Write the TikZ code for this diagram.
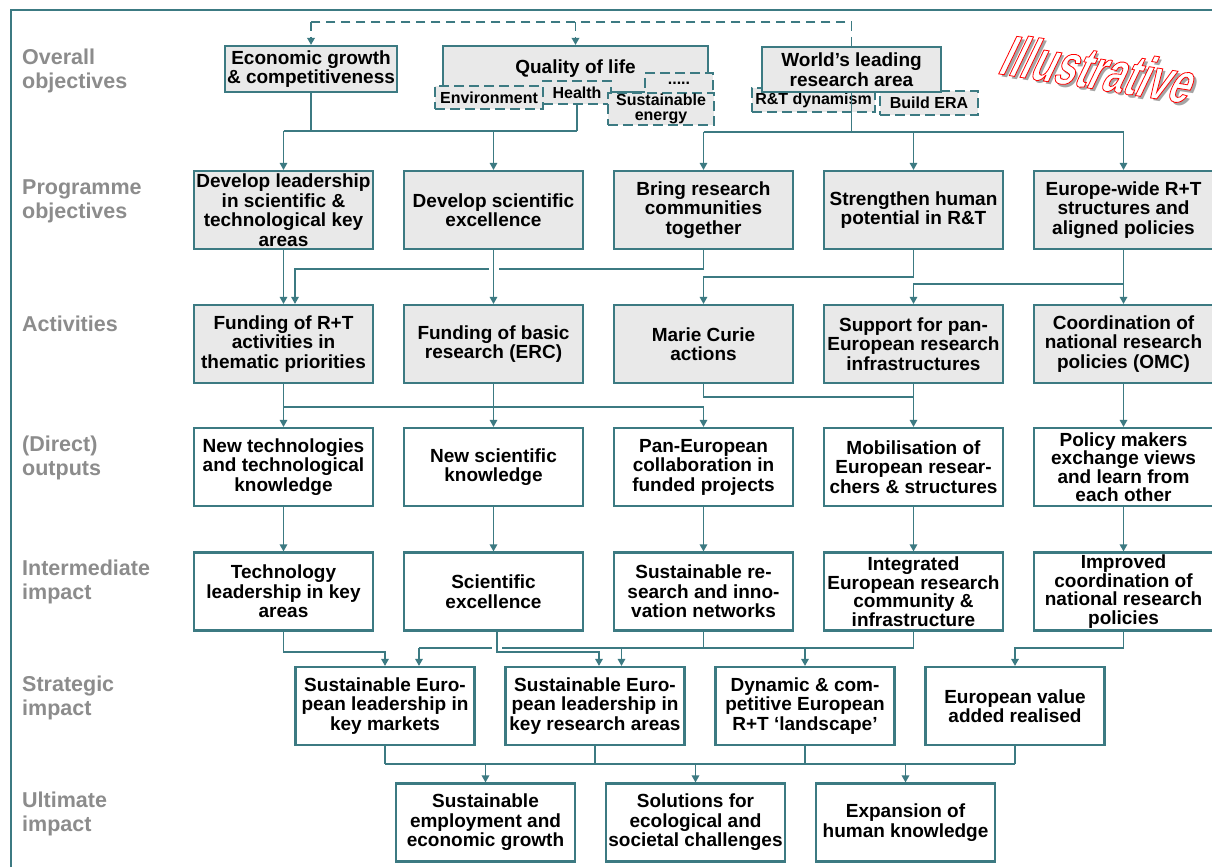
\documentclass[tikz,border=0pt]{standalone}
\usepackage{fontspec}
\setmainfont{Liberation Sans}
\newfontfamily\illfont{Liberation Sans}[FakeStretch=0.66,FakeSlant=0.3]
\usetikzlibrary{arrows.meta,calc}
\definecolor{tealc}{RGB}{60,122,130}
\definecolor{boxgray}{RGB}{233,233,233}
\definecolor{lblgray}{RGB}{140,140,140}
\definecolor{shadowgray}{RGB}{165,165,165}
\newcommand{\outlinedtext}[1]{\special{pdf:literal direct 1 0 0 RG 2 Tr 0.8 w}#1\special{pdf:literal direct 0 Tr}}
\begin{document}
\begin{tikzpicture}[x=1pt,y=-1pt,
  box/.style={draw=tealc, line width=2.2pt, minimum width=179pt, minimum height=78pt, inner sep=0pt, align=center, font=\fontsize{19}{19.5}\selectfont\bfseries},
  gbox/.style={box, fill=boxgray},
  wbox/.style={box, fill=white},
  tight/.style={font=\fontsize{19}{18.5}\selectfont\bfseries},
  subbox/.style={draw=tealc, line width=1.8pt, dash pattern=on 10pt off 5pt, fill=boxgray, inner sep=0pt, align=center, font=\fontsize{16}{15}\selectfont\bfseries},
  lbl/.style={anchor=west, align=left, text=lblgray, font=\fontsize{21.5}{24}\selectfont\bfseries, inner sep=0pt},
  conn/.style={draw=tealc, line width=1.5pt},
  arr/.style={conn, -{Triangle[width=7.5pt,length=7pt]}},
  dconn/.style={draw=tealc, line width=1.8pt, dash pattern=on 9pt off 6pt},
  gap/.style={draw=white, line width=4pt},
  stamp/.style={rotate=-9, inner sep=0pt, font=\illfont\fontsize{58}{58}\selectfont\bfseries},
]
\useasboundingbox (0,0) rectangle (1212,867);
\fill[white] (0,0) rectangle (1212,867);

% frame
\draw[tealc, line width=2.4pt] (11,867) -- (11,10) -- (1212,10);

% left labels
\node[lbl] (l1) at (22,71) {Overall\\objectives};
\node[lbl] (l2) at (22,201) {Programme\\objectives};
\node[lbl] (l3) at (22,324) {Activities};
\node[lbl] (l4) at (22,458) {(Direct)\\outputs};
\node[lbl] (l5) at (22,582) {Intermediate\\impact};
\node[lbl] (l6) at (22,698) {Strategic\\impact};
\node[lbl] (l7) at (22,814) {Ultimate\\impact};

% Illustrative stamp
\node[stamp, text=shadowgray] (illusshadow) at (1097,71) {Illustrative};
\node[stamp, text=white] (illus) at (1094,68) {\outlinedtext{Illustrative}};

% row 1: overall objectives
\node[gbox, minimum width=172pt, minimum height=46pt] (econ) at (311,69) {Economic growth\\\& competitiveness};
\node[gbox, minimum width=265pt, minimum height=46pt] (qol) at (575.5,69) {Quality of life};
\node[subbox, minimum width=108pt, minimum height=23pt] (env) at (489,97.5) {Environment};
\node[subbox, minimum width=68pt, minimum height=23pt] (health) at (577,92.5) {Health};
\node[subbox, minimum width=68pt, minimum height=24pt] (dots) at (679,85) {\raisebox{4pt}{.....}};
\node[subbox, minimum width=106pt, minimum height=32pt] (sust) at (661,109) {Sustainable\\energy};
\node[subbox, minimum width=123pt, minimum height=24pt] (rtd) at (813.5,100) {R\&T dynamism};
\node[subbox, minimum width=98pt, minimum height=24pt] (era) at (929,103) {Build ERA};
\node[gbox, minimum width=179pt, minimum height=45pt] (world) at (851.5,69.5) {World’s leading\\research area};

% row 2: programme objectives
\node[gbox] (p1) at (283.5,210) {Develop leadership\\in scientific \&\\technological key\\areas};
\node[gbox] (p2) at (493.5,210) {Develop scientific\\excellence};
\node[gbox] (p3) at (703.5,210) {Bring research\\communities\\together};
\node[gbox] (p4) at (913.5,210) {Strengthen human\\potential in R\&T};
\node[gbox] (p5) at (1123.5,210) {Europe-wide R+T\\structures and\\aligned policies};

% row 3: activities
\node[gbox] (a1) at (283.5,344) {Funding of R+T\\activities in\\thematic priorities};
\node[gbox] (a2) at (493.5,344) {Funding of basic\\research (ERC)};
\node[gbox] (a3) at (703.5,344) {Marie Curie\\actions};
\node[gbox] (a4) at (913.5,344) {Support for pan-\\European research\\infrastructures};
\node[gbox] (a5) at (1123.5,344) {Coordination of\\national research\\policies (OMC)};

% row 4: direct outputs
\node[wbox] (o1) at (283.5,467) {New technologies\\and technological\\knowledge};
\node[wbox] (o2) at (493.5,467) {New scientific\\knowledge};
\node[wbox] (o3) at (703.5,467) {Pan-European\\collaboration in\\funded projects};
\node[wbox] (o4) at (913.5,467) {Mobilisation of\\European resear-\\chers \& structures};
\node[wbox, tight] (o5) at (1123.5,467) {Policy makers\\exchange views\\and learn from\\each other};

% row 5: intermediate impact
\node[wbox] (i1) at (283.5,591.5) {Technology\\leadership in key\\areas};
\node[wbox] (i2) at (493.5,591.5) {Scientific\\excellence};
\node[wbox] (i3) at (703.5,591.5) {Sustainable re-\\search and inno-\\vation networks};
\node[wbox, tight] (i4) at (913.5,591.5) {Integrated\\European research\\community \&\\infrastructure};
\node[wbox, tight] (i5) at (1123.5,591.5) {Improved\\coordination of\\national research\\policies};

% row 6: strategic impact
\node[wbox] (s1) at (385,706) {Sustainable Euro-\\pean leadership in\\key markets};
\node[wbox] (s2) at (595,706) {Sustainable Euro-\\pean leadership in\\key research areas};
\node[wbox] (s3) at (805,706) {Dynamic \& com-\\petitive European\\R+T ‘landscape’};
\node[wbox] (s4) at (1015,706) {European value\\added realised};

% row 7: ultimate impact
\node[wbox] (u1) at (485.5,822.5) {Sustainable\\employment and\\economic growth};
\node[wbox] (u2) at (695.5,822.5) {Solutions for\\ecological and\\societal challenges};
\node[wbox] (u3) at (905.5,822.5) {Expansion of\\human knowledge};

% ---- connectors ----
% dashed link among overall objectives
\coordinate (dy) at (0,22);
\draw[dconn] (world.north) -- (world.north |- dy) -- (econ.north |- dy);
\draw[dconn, -{Triangle[width=7.5pt,length=7pt]}] (econ.north |- dy) -- (econ.north);
\draw[dconn, -{Triangle[width=7.5pt,length=7pt]}] (qol.north |- dy) -- (qol.north);

% overall -> programme
\coordinate (ya) at (0,131);
\draw[conn] (econ.south) -- (econ.south |- ya);
\draw[conn] (health.south) -- (health.south |- ya);
\draw[conn] (p1.north |- ya) -- (health.south |- ya);
\draw[arr] (p1.north |- ya) -- (p1.north);
\draw[arr] (p2.north |- ya) -- (p2.north);
\coordinate (yb) at (0,132);
\draw[conn] (world.south) -- (world.south |- yb);
\draw[conn] (p3.north |- yb) -- (p5.north |- yb);
\draw[arr] (p3.north |- yb) -- (p3.north);
\draw[arr] (p4.north |- yb) -- (p4.north);
\draw[arr] (p5.north |- yb) -- (p5.north);

% programme -> activities
\coordinate (yc) at (0,269);
\coordinate (a1r) at ([xshift=11.5pt]a1.north);
\draw[arr] (p1.south) -- (a1.north);
\draw[arr] (p3.south) -- (p3.south |- yc) -- (a1r |- yc) -- (a1r);
\draw[gap] ($(p2.south |- yc)+(-5,0)$) -- ($(p2.south |- yc)+(5,0)$);
\draw[arr] (p2.south) -- (a2.north);
\coordinate (yd) at (0,277);
\draw[arr] (p4.south) -- (p4.south |- yd) -- (a3.north |- yd) -- (a3.north);
\draw[arr] (p5.south) -- (a5.north);
\coordinate (ye) at (0,284);
\draw[arr] (p5.south |- ye) -- (a4.north |- ye) -- (a4.north);

% activities -> outputs
\coordinate (yf) at (0,407);
\draw[arr] (a1.south) -- (o1.north);
\draw[arr] (a1.south |- yf) -- (o3.north |- yf) -- (o3.north);
\draw[arr] (a2.south) -- (o2.north);
\coordinate (yg) at (0,397);
\draw[conn] (a3.south) -- (a3.south |- yg) -- (a4.south |- yg);
\draw[arr] (a4.south) -- (o4.north);
\draw[arr] (a5.south) -- (o5.north);

% outputs -> intermediate
\foreach \k in {1,...,5} {\draw[arr] (o\k.south) -- (i\k.north);}

% intermediate -> strategic
\coordinate (yh) at (0,652);
\coordinate (yi) at (0,648);
\coordinate (s1r) at ([xshift=34pt]s1.north);
\coordinate (s2l) at ([xshift=4pt]s2.north);
\coordinate (s2r) at ([xshift=26.5pt]s2.north);
\coordinate (i2r) at ([xshift=3.5pt]i2.south);
\draw[arr] (i1.south) -- (i1.south |- yh) -- (s1.north |- yh) -- (s1.north);
\draw[conn] (i3.south) -- (i3.south |- yi);
\draw[conn] (i4.south) -- (i4.south |- yi);
\draw[conn] (s1r |- yi) -- (i4.south |- yi);
\draw[arr] (s1r |- yi) -- (s1r);
\draw[arr] (s2r |- yi) -- (s2r);
\draw[arr] (s3.north |- yi) -- (s3.north);
\draw[gap] ($(i2r |- yi)+(-5,0)$) -- ($(i2r |- yi)+(5,0)$);
\draw[arr] (i2r) -- (i2r |- yh) -- (s2l |- yh) -- (s2l);
\draw[arr] (i5.south) -- (i5.south |- yi) -- (s4.north |- yi) -- (s4.north);

% strategic -> ultimate
\coordinate (yj) at (0,764);
\foreach \k in {1,...,4} {\draw[conn] (s\k.south) -- (s\k.south |- yj);}
\draw[conn] (s1.south |- yj) -- (s4.south |- yj);
\foreach \k in {1,2,3} {\draw[arr] (u\k.north |- yj) -- (u\k.north);}
\end{tikzpicture}
\end{document}
